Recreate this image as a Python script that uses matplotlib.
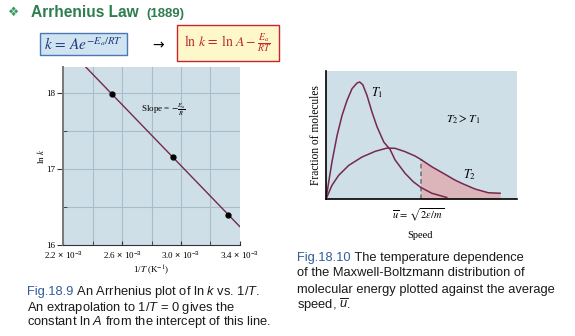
import numpy as np
import matplotlib.pyplot as plt
from matplotlib.patches import Rectangle

plt.rcParams['mathtext.fontset'] = 'custom'
plt.rcParams['mathtext.rm'] = 'Liberation Sans'
plt.rcParams['mathtext.it'] = 'Liberation Sans:italic'
plt.rcParams['mathtext.bf'] = 'Liberation Sans:bold'

# Arrhenius plot data (1/T in units of 1e-3 K^-1)
inv_T = [2.533, 2.944, 3.322]
ln_k = [17.98, 17.15, 16.40]
x_ticks = [2.2, 2.6, 3.0, 3.4]
x_ticklabels = [r'2.2 $\times$ 10$^{-3}$', r'2.6 $\times$ 10$^{-3}$',
                r'3.0 $\times$ 10$^{-3}$', r'3.4 $\times$ 10$^{-3}$']
y_ticks = [16, 17, 18]

# Maxwell-Boltzmann curves (arbitrary units)
t1_x = [0, 1.4, 3.1, 5.8, 8.4, 11.0, 13.6, 16.2, 17.6, 19.2, 21.4, 24.0, 26.7, 30.2,
        33.5, 36.1, 41.3, 45.6, 49.5, 55.3, 63.1]
t1_y = [0, 13.3, 28.9, 49.8, 65.4, 77.1, 86.2, 90.6, 91.4, 89.3, 81.0, 68.0, 56.3, 44.5,
        38.7, 30.5, 20.1, 13.5, 9.1, 4.5, 1.2]
t2_x = [0, 3.1, 6.6, 11.9, 18.8, 25.8, 31.9, 36.1, 41.3, 46.5, 49.5, 55.3, 61.3, 67.4,
        70.9, 77.9, 84.8, 91.0]
t2_y = [0, 10.7, 18.5, 26.3, 32.8, 37.3, 39.8, 39.6, 37.0, 33.6, 31.0, 25.2, 20.1, 14.8,
        12.3, 7.8, 4.9, 4.5]
u_bar = 49.5

serif = 'Liberation Serif'
sans = 'Liberation Sans'
line_col = '#74294f'
bg = '#cfdfe8'
W, H = 575, 336

fig = plt.figure(figsize=(5.75, 3.36), dpi=100)
renderer = fig.canvas.get_renderer()


def fx(px):
    return px / W


def fy(py):
    return 1 - py / H


# ---- left: Arrhenius plot
ax1 = fig.add_axes([0.110, 0.271, 0.307, 0.530])
ax1.set_facecolor(bg)
ax1.set_xlim(2.2, 3.4)
ax1.set_ylim(16, 18.34)
for v in [2.4, 2.6, 2.8, 3.0, 3.2]:
    ax1.axvline(v, color='#a8bccb', lw=0.8, zorder=0)
for v in [16.5, 17, 17.5, 18]:
    ax1.axhline(v, color='#a8bccb', lw=0.8, zorder=0)
p = np.polyfit(inv_T, ln_k, 1)
xl = np.array([2.2, 3.4])
ax1.plot(xl, np.polyval(p, xl), color=line_col, lw=1.0)
ax1.plot(inv_T, ln_k, 'o', color='black', ms=3.5)
ax1.set_xticks(x_ticks)
ax1.set_xticks([2.4, 2.8, 3.2], minor=True)
ax1.set_xticklabels(x_ticklabels, fontsize=6.5, family=serif)
ax1.set_yticks(y_ticks)
ax1.set_yticks([16.5, 17.5], minor=True)
ax1.set_yticklabels([str(v) for v in y_ticks], fontsize=6.5, family=serif)
ax1.tick_params(axis='x', which='both', direction='in', length=3, color='#333333', pad=3)
ax1.tick_params(axis='y', which='major', direction='out', length=4, color='#333333', pad=2)
ax1.tick_params(axis='y', which='minor', direction='in', length=3, color='#333333')
for s in ['top', 'right']:
    ax1.spines[s].set_visible(False)
ax1.spines['left'].set_color('#777777')
ax1.spines['left'].set_linewidth(1.4)
ax1.spines['bottom'].set_color('#333333')
ax1.set_xlabel(r'1/$\it{T}$ (K$^{-1}$)', fontsize=6.5, family=serif, labelpad=2, math_fontfamily='stix')
ax1.set_ylabel(r'ln $\it{k}$', fontsize=6.5, family=serif, labelpad=0, math_fontfamily='stix')
ax1.text(2.73, 17.78, r'Slope = $-\frac{E_a}{R}$', fontsize=6.5, family=serif,
         va='center', math_fontfamily='stix')

# ---- right: Maxwell-Boltzmann distribution
ax2 = fig.add_axes([0.5670, 0.4077, 0.3327, 0.3810])
ax2.set_facecolor(bg)
ax2.set_xlim(0, 100)
ax2.set_ylim(0, 100)
t2x = np.array(t2_x)
t2y = np.array(t2_y)
m = t2x >= u_bar
ax2.fill_between(t2x[m], 0, t2y[m], color='#dcb5bb', lw=0)
ax2.plot([u_bar, u_bar], [0, t2y[m][0]], color='#6e6e6e', lw=1.1, ls=(0, (3, 2)))
ax2.plot(t1_x, t1_y, color=line_col, lw=1.1)
ax2.plot(t2_x, t2_y, color=line_col, lw=1.1)
ax2.set_xticks([])
ax2.set_yticks([])
for s in ['top', 'right']:
    ax2.spines[s].set_visible(False)
ax2.spines['left'].set_linewidth(1.2)
ax2.spines['bottom'].set_linewidth(1.2)
ax2.set_ylabel('Fraction of molecules', fontsize=8.3, family=serif, labelpad=3)
ax2.text(26.8, 82.9, r'$\mathit{T}_1$', fontsize=9, math_fontfamily='stix', ha='center', va='center')
ax2.text(71.7, 62.5, r'$\mathit{T}_2 > \mathit{T}_1$', fontsize=8.5, math_fontfamily='stix',
         ha='center', va='center')
ax2.text(75.3, 18.9, r'$\mathit{T}_2$', fontsize=9, math_fontfamily='stix', ha='center', va='center')
fig.text(fx(417.7), fy(215), r'$\overline{u}\,=\,\sqrt{2\varepsilon/m}$', fontsize=7.5,
         math_fontfamily='stix', ha='center', va='center')
fig.text(fx(420), fy(236), 'Speed', fontsize=7.5, family=serif, ha='center', va='center')

# ---- title and formula boxes
green = '#2e7d4f'
fig.text(fx(14), fy(12), '\u2756', fontsize=9, color='#3a9a5e', ha='center', va='center',
         family='DejaVu Sans')
fig.text(fx(31), fy(17), 'Arrhenius Law', fontsize=11.2, color=green,
         family=sans, weight='bold', va='baseline')
fig.text(fx(146), fy(17), '(1889)', fontsize=9.5, color=green,
         family=sans, weight='bold', va='baseline')

fig.patches.append(Rectangle((fx(40), fy(55)), 87 / W, 22 / H, transform=fig.transFigure,
                             facecolor='#cfe3f1', edgecolor='#4a78b5', lw=1.0))
fig.text(fx(83.5), fy(45), r'$k\,=\,Ae^{-E_a/RT}$', fontsize=11, color='#1f3a7a',
         math_fontfamily='stix', ha='center', va='center')
fig.text(fx(158), fy(45), '\u2192', fontsize=10, color='black', ha='center', va='center')
fig.patches.append(Rectangle((fx(177), fy(61)), 102 / W, 36 / H, transform=fig.transFigure,
                             facecolor='#fdf7c9', edgecolor='#c8262c', lw=1.0))
fig.text(fx(228), fy(43), r'$\ln\,k\,=\,\ln\,A - \frac{E_a}{RT}$', fontsize=10, color='#c0262d',
         math_fontfamily='stix', ha='center', va='center')

# ---- captions
blue = '#2f5d9c'
txt = '#1a1a1a'
cap_fs = 9.3


def caption_line(x, y, parts):
    # parts: list of (text, colour); drawn side by side on one baseline
    for s, c in parts:
        tt = fig.text(fx(x), fy(y), s, fontsize=cap_fs, color=c, family=sans, va='baseline')
        x = tt.get_window_extent(renderer).x1


caption_line(27, 295.5, [('Fig.18.9', blue), (r' An Arrhenius plot of ln $\it{k}$ vs. 1/$\it{T}$.', txt)])
caption_line(27, 310.5, [(r'An extrapolation to 1/$\it{T}$ = 0 gives the', txt)])
caption_line(27, 325.5, [(r'constant ln $\it{A}$ from the intercept of this line.', txt)])

caption_line(297, 260.5, [('Fig.18.10', blue), (' The temperature dependence', txt)])
caption_line(297, 276.5, [('of the Maxwell-Boltzmann distribution of', txt)])
caption_line(297, 292.5, [('molecular energy plotted against the average', txt)])
caption_line(297, 308.5, [(r'speed, $\overline{\mathit{u}}$.', txt)])

fig.savefig('out.png', dpi=100)
